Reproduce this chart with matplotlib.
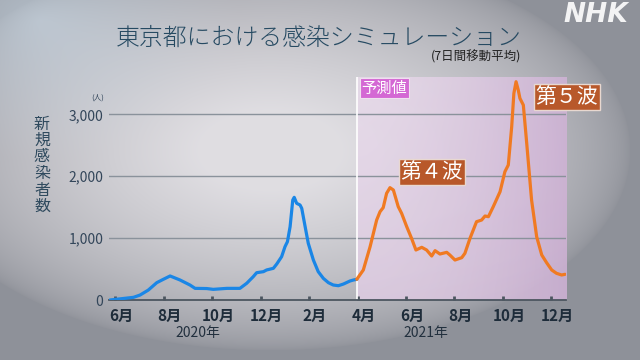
import numpy as np
import matplotlib
matplotlib.use("Agg")
import matplotlib.pyplot as plt

plt.rcParams['font.family'] = ['Noto Sans CJK JP', 'DejaVu Sans']

# ---- data (months since 2020-06-01) ----
blue_x = [-0.21, 0.76, 1.03, 1.37, 1.72, 1.99, 2.27, 2.68, 3.09, 3.30, 3.78, 4.05, 4.61, 5.15,
          5.43, 5.70, 5.84, 6.12, 6.25, 6.53, 6.67, 6.87, 7.01, 7.11, 7.22, 7.33, 7.39, 7.49,
          7.63, 7.70, 7.84, 7.97, 8.18, 8.38, 8.59, 8.80, 9.00, 9.21, 9.42, 9.69, 9.83, 9.97]
blue_y = [0, 43, 80, 160, 280, 334, 388, 323, 242, 188, 185, 172, 188, 188,
          270, 377, 441, 458, 485, 512, 582, 700, 862, 942, 1185, 1615, 1659, 1562,
          1535, 1481, 1185, 915, 646, 458, 350, 280, 242, 231, 258, 307, 323, 334]

orange_x = [9.97, 10.24, 10.52, 10.79, 10.93, 11.06, 11.20, 11.34, 11.48, 11.68, 11.82, 12.03,
            12.23, 12.41, 12.65, 12.85, 13.06, 13.20, 13.40, 13.68, 13.81, 14.02, 14.30, 14.43,
            14.64, 14.91, 15.12, 15.26, 15.40, 15.60, 15.88, 16.08, 16.22, 16.36, 16.45, 16.54,
            16.63, 16.70, 16.84, 16.98, 17.18, 17.39, 17.60, 17.80, 18.01, 18.21, 18.42, 18.56]
orange_y = [334, 485, 862, 1292, 1427, 1492, 1723, 1815, 1777, 1508, 1400, 1185,
            996, 808, 851, 808, 711, 797, 743, 770, 727, 646, 684, 754,
            996, 1265, 1292, 1357, 1346, 1508, 1750, 2073, 2181, 2800, 3339, 3527,
            3393, 3258, 3150, 2531, 1616, 1023, 727, 603, 485, 431, 404, 415]

month_ticks = [0, 2, 4, 6, 8, 10, 12, 14, 16, 18]
month_labels = ['6月', '8月', '10月', '12月', '2月', '4月', '6月', '8月', '10月', '12月']
year_labels = ['2020年', '2021年']
year_pos = [3.4, 12.8]
y_ticks = [0, 1000, 2000, 3000]
y_ticklabels = ['0', '1,000', '2,000', '3,000']
forecast_start = 9.97

W, H = 640, 360
fig = plt.figure(figsize=(6.4, 3.6), dpi=100)

# ---- background ----
bg = fig.add_axes([0, 0, 1, 1])
yy, xx = np.mgrid[0:H, 0:W]
base = np.array([0.56, 0.57, 0.60])
img = np.ones((H, W, 3)) * base
d = np.sqrt(((xx - 270) / 360.0) ** 2 + ((yy - 150) / 200.0) ** 2)
w = np.clip(1.25 * (1 - d), 0, 1) ** 0.6
light = np.array([0.875, 0.868, 0.885])
img = img * (1 - w[..., None]) + light * w[..., None]
d2 = np.sqrt(((xx - 40) / 200.0) ** 2 + ((yy - 20) / 140.0) ** 2)
w2 = np.clip(1 - d2, 0, 1) ** 1.2 * 0.6
blue_l = np.array([0.80, 0.86, 0.91])
img = img * (1 - w2[..., None]) + blue_l * w2[..., None]
bg.imshow(np.clip(img, 0, 1), extent=[0, W, H, 0], aspect='auto')
bg.set_xlim(0, W)
bg.set_ylim(H, 0)
bg.axis('off')

# ---- main axes ----
ax = fig.add_axes([109 / W, 1 - 300 / H, (566 - 109) / W, (300 - 77) / H])
ax.patch.set_alpha(0)
ymax = 3603
xmin, xmax = -0.25, 18.6
ax.set_xlim(xmin, xmax)
ax.set_ylim(0, ymax)

# forecast shading (gradient)
gw, gh = 200, 60
grad = np.zeros((gh, gw, 4))
tx = np.linspace(0, 1, gw)[None, :]
ty = np.linspace(0, 1, gh)[:, None]
c0 = np.array([0.91, 0.86, 0.92])
c1 = np.array([0.79, 0.65, 0.82])
tt = np.clip(0.75 * tx ** 1.5 + 0.35 * ty * (1 - tx) * 0.8, 0, 1)
grad[..., :3] = c0 * (1 - tt[..., None]) + c1 * tt[..., None]
grad[..., 3] = 0.85
ax.imshow(grad, extent=[forecast_start, xmax, 0, ymax], aspect='auto', zorder=0,
          origin='upper')

for v in y_ticks[1:]:
    ax.axhline(v, color='#8a929b', lw=1.0, zorder=1)
ax.axvline(forecast_start, color='white', lw=1.2, zorder=2)

ax.plot(blue_x, blue_y, color='#1a86e6', lw=2.3, zorder=4, solid_capstyle='round')
ax.plot(orange_x, orange_y, color='#f07a22', lw=2.3, zorder=4, solid_capstyle='round')

for s in ['top', 'right', 'left']:
    ax.spines[s].set_visible(False)
ax.spines['bottom'].set_color('#4c5660')
ax.spines['bottom'].set_linewidth(1.3)
ax.set_yticks(y_ticks)
ax.set_yticklabels(y_ticklabels, fontsize=10, color='#33465a')
ax.tick_params(axis='y', length=0, pad=4)
ax.set_xticks(month_ticks)
ax.set_xticklabels([])
ax.tick_params(axis='x', length=3, width=2, color='#4c5660', direction='in')

for m, lab in zip(month_ticks, month_labels):
    ax.text(m + 0.25, -250, lab, ha='center', va='center', fontsize=11,
            fontweight='bold', color='#1e2c3a', clip_on=False)
for p, lab in zip(year_pos, year_labels):
    ax.text(p, -540, lab, ha='center', va='center', fontsize=10,
            color='#22303e', clip_on=False)

# ---- texts ----
fig.text(116 / W, 1 - 38 / H, '東京都における感染シミュレーション', fontsize=17.2,
         color='#264a62', ha='left', va='center', fontweight='light')
fig.text(521 / W, 1 - 57 / H, '(7日間移動平均)', fontsize=9, color='#222', ha='right', va='center')
fig.text(98 / W, 1 - 98 / H, '(人)', fontsize=5.5, color='#33465a', ha='center', va='center')
ylab = '新規感染者数'
for i, ch in enumerate(ylab):
    fig.text(42 / W, 1 - (124 + i * 16.5) / H, ch, fontsize=11.5, color='#2f4a5e',
             ha='center', va='center')
fig.text(596 / W, 1 - 15 / H, 'NHK', fontsize=19, color='white', alpha=0.9,
         fontweight='bold', style='italic', ha='center', va='center', family='DejaVu Sans')

fig.text(384.5 / W, 1 - 88 / H, '予測値', fontsize=11, color='white', ha='center', va='center',
         bbox=dict(boxstyle='square,pad=0.12', fc='#d468d4', ec='#efe0ef', lw=0.8))
fig.text(432 / W, 1 - 172 / H, '第４波', fontsize=15, color='white', ha='center', va='center',
         bbox=dict(boxstyle='square,pad=0.1', fc='#b8582a', ec='#e8d8d0', lw=1.0))
fig.text(567 / W, 1 - 97 / H, '第５波', fontsize=15, color='white', ha='center', va='center',
         bbox=dict(boxstyle='square,pad=0.1', fc='#b8582a', ec='#e8d8d0', lw=1.0))

fig.savefig('out.png', dpi=100)
